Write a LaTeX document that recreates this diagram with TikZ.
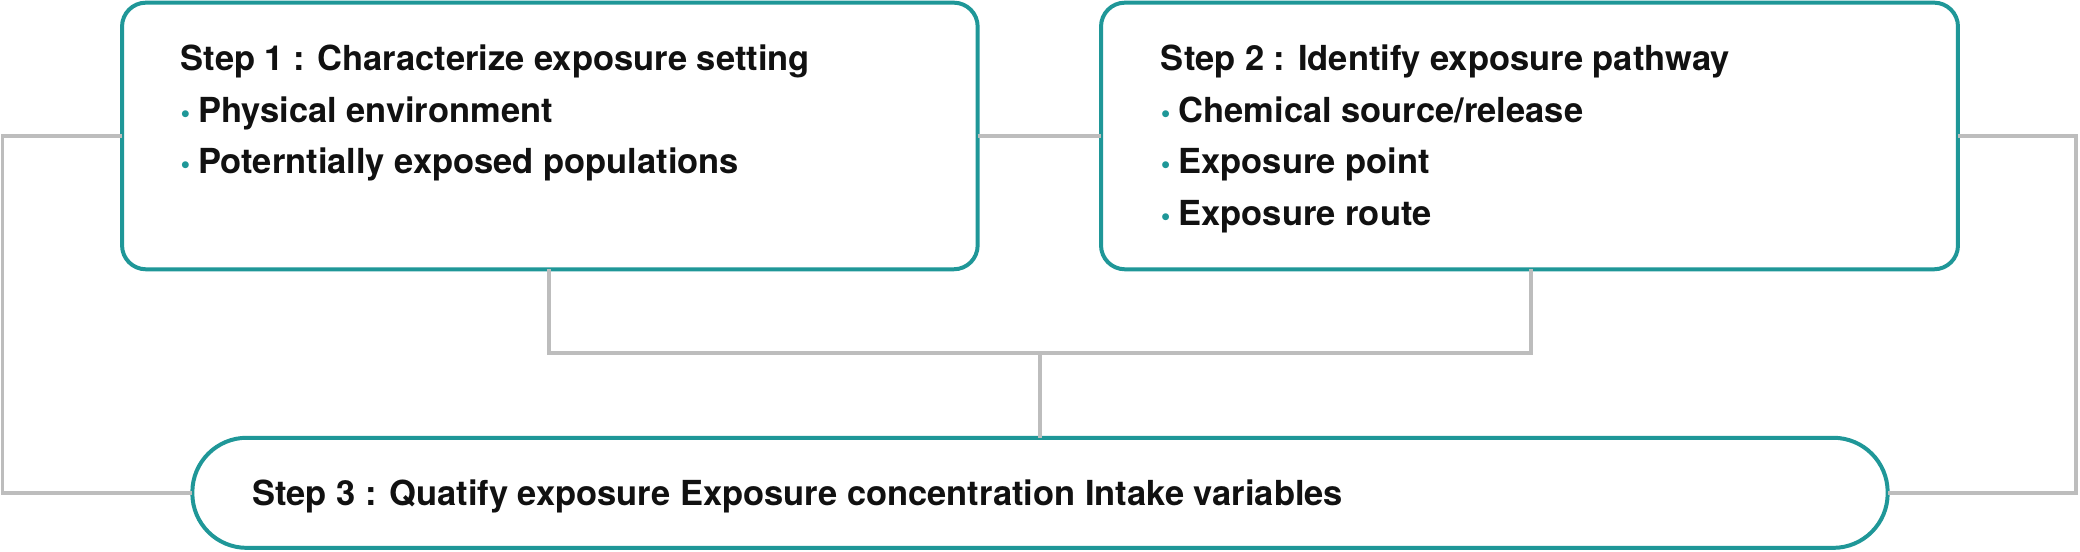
\documentclass[tikz,border=0pt]{standalone}
\usepackage{fontspec}
\setmainfont{TeX Gyre Heros}
\definecolor{tealb}{HTML}{1F9798}
\definecolor{gline}{HTML}{BDBDBD}
\definecolor{txt}{HTML}{111111}
\newcommand{\bul}{{\color{tealb}\scalebox{0.8}{•}}\hspace{6pt}}
\tikzset{
  stepbox/.style={draw=tealb, line width=3pt, rounded corners=18pt, fill=white, inner sep=0pt, outer sep=0pt},
  pillbox/.style={draw=tealb, line width=3pt, rounded corners=41pt, fill=white, inner sep=0pt, outer sep=0pt},
  conn/.style={draw=gline, line width=2.6pt},
  lbl/.style={inner sep=0pt, anchor=base west, text=txt, font=\fontsize{26}{39}\selectfont\bfseries}
}
\begin{document}
\begin{tikzpicture}[x=1pt,y=-1pt]
\useasboundingbox (0,0) rectangle (1568,416);
% boxes
\node[stepbox, minimum width=645pt, minimum height=201pt, anchor=north west] (b1) at (92,2) {};
\node[stepbox, minimum width=646pt, minimum height=201pt, anchor=north west] (b2) at (830,2) {};
\node[pillbox, minimum width=1278pt, minimum height=83pt, anchor=north west] (b3) at (145,330) {};
% connectors
\coordinate (lc) at (2,250);
\coordinate (rc) at (1565,250);
\coordinate (m1) at (414,266);
\coordinate (m2) at (1154,266);
\coordinate (m3) at (784,266);
\draw[conn] (b1.west) -| (lc) |- (b3.west);
\draw[conn] (b2.east) -| (rc) |- (b3.east);
\draw[conn] (b1.east) -- (b2.west);
\draw[conn] (b1.south -| m1) -- (m1) -- (m2) -- (b2.south -| m2);
\draw[conn] (m3) -- (b3.north -| m3);
% texts
\node[lbl] (t1) at (136,53) {\begin{tabular}[t]{@{}l@{}}Step 1 : Characterize exposure setting\\ \bul Physical environment\\ \bul Poterntially exposed populations\end{tabular}};
\node[lbl] (t2) at (875,53) {\begin{tabular}[t]{@{}l@{}}Step 2 : Identify exposure pathway\\ \bul Chemical source/release\\ \bul Exposure point\\ \bul Exposure route\end{tabular}};
\node[lbl] (t3) at (190,381) {Step 3 : Quatify exposure Exposure concentration Intake variables};
\end{tikzpicture}
\end{document}
